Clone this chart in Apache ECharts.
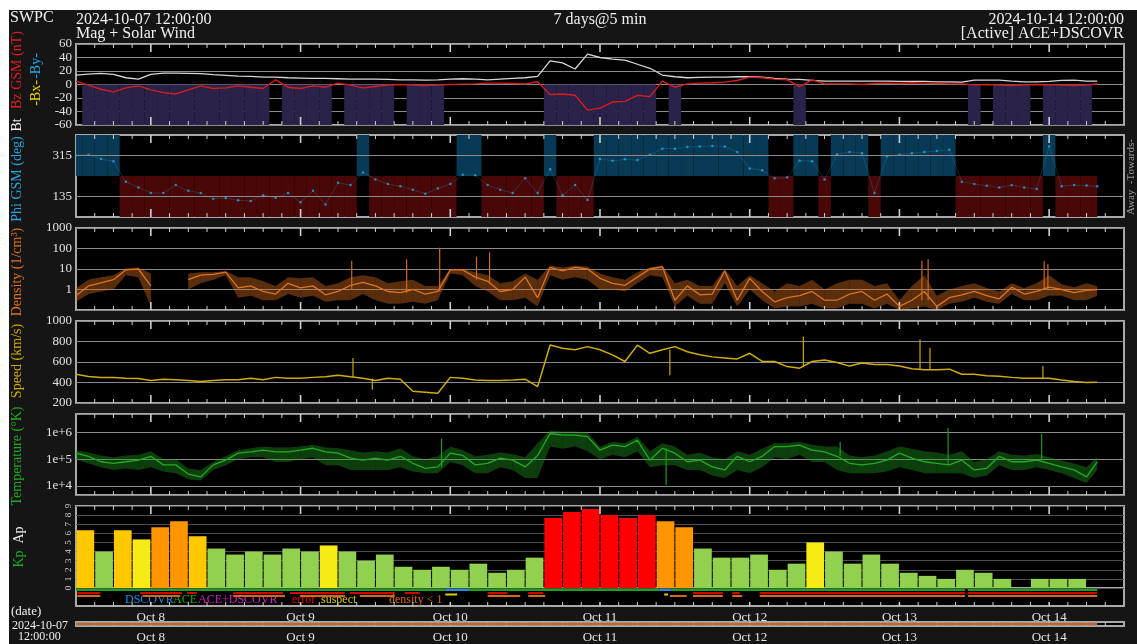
<!DOCTYPE html>
<html>
<head>
<meta charset="utf-8">
<script src="https://cdn.jsdelivr.net/npm/echarts@6/dist/echarts.min.js"></script>
<style>
  html, body { margin: 0; padding: 0; background: #fff; }
  #chart { width: 1137px; height: 644px; }
</style>
</head>
<body>
<div id="chart"></div>
<script>
// ---- Time base: hours since 2024-10-07 12:00 UTC (2-hour samples) ----
const hours = [0,2,4,6,8,10,12,14,16,18,20,22,24,26,28,30,32,34,36,38,40,42,44,46,48,50,52,54,56,58,
  60,62,64,66,68,70,72,74,76,78,80,82,84,86,88,90,92,94,96,98,100,102,104,106,108,110,112,114,116,118,
  120,122,124,126,128,130,132,134,136,138,140,142,144,146,148,150,152,154,156,158,160,162,163.7];

// Magnetic field (nT)
const bt = [14,15.5,16.5,15,10,8,15,17,17,16.5,16,14.5,13.5,12.5,12,11,11,10,9.5,9,9,8.5,8,8,8,7.5,7,7,6.5,7,
  8,8.5,8,7,8,9,10,12,35,32,23,45,40,37.5,36,30,24,14,11.5,10,10.5,11,11,11.5,11.5,11,9,8,7.5,6,
  5,5,5,5,5,5,4.5,4.5,4.5,4,4,3.5,6.5,6.5,6.5,5,4,4,4.5,6,6.5,5,5];
const bz = [5,-1,-7,-11,-5,-2,-8,-12,-14,-8,-2,-6,-5,-2,-4,-6,7,-4,-6,-2,-4,2,-1,-5,-3,-1,0,-1,-1.5,-1,
  0,0.5,1,2,2,1.5,1,4,-15,-14,-16,-38,-35,-26,-25,-16,-18,5,-4,1,2,2.5,3.5,6,11,10,8,7,-3,7,
  1,1,1,0,1.5,2,1.5,2.5,2,1.5,1,1,-0.5,0,-1,-1.5,-0.5,0,-0.5,-1,-1.5,-1,1];

// Field longitude Phi GSM (deg)
const phi = [315,318,300,290,200,175,150,150,185,160,150,125,128,118,115,140,130,150,110,160,100,195,185,240,210,190,180,165,147,170,
  190,230,228,185,165,150,215,150,255,140,185,120,300,292,298,295,318,345,345,352,355,357,355,330,258,250,215,218,292,290,
  210,320,330,325,150,312,318,325,330,335,340,200,190,182,175,185,175,168,355,180,185,183,180];

// Proton density (1/cm^3): typical value and the spread within each sample
const density = [0.5,1.5,2.1,3,9,10,1.5,null,null,3,5,5.5,7,1.2,1.5,0.8,0.6,2,1.2,1.5,0.55,0.8,1.6,2.2,1.5,0.8,0.7,1,0.6,0.8,
  9,9,4,2.5,0.8,1,4,0.4,12,8,12,10,3.5,2,1.6,4,10,13,0.3,1.5,0.55,0.6,8,0.3,3.5,0.8,0.25,0.4,0.5,0.8,
  0.3,0.3,0.6,0.8,0.3,0.6,0.15,0.3,0.8,0.15,0.4,0.55,0.8,0.5,0.35,1.3,0.6,0.8,1.3,1,0.7,0.9,1];
const densityLow = [0.25,0.6,0.8,1,5,4,0.15,null,null,1,2,3,5,0.4,0.5,0.3,0.3,0.6,0.4,0.5,0.25,0.3,0.3,0.6,0.3,0.2,0.2,0.25,0.2,0.3,
  6,5,1.5,0.8,0.3,0.3,0.4,0.15,5,3,4,3,1,1,0.8,2,5,4,0.15,0.5,0.2,0.2,2,0.15,1,0.3,0.12,0.15,0.15,0.2,
  0.12,0.12,0.2,0.2,0.12,0.2,0.1,0.12,0.15,0.1,0.2,0.25,0.4,0.25,0.2,0.6,0.3,0.3,0.5,0.5,0.3,0.3,0.5];
const densityHigh = [1.2,3,4,5,11,12,6,null,null,6,7,7,8,4,4,2.5,1.5,4,3.5,4,1.5,2,4,5,4,2,2.5,3,1.5,1.5,
  10,10,7,5,2,2.5,6,3,15,12,15,13,6,4,3,7,12,15,2,3,1.5,1.5,10,1.5,5,2,0.8,2,1.5,3,
  1,2,3,3,1.5,2,0.3,1.5,5,0.5,1,1.5,2,1.2,0.8,2,1.2,2,5,1.8,1.3,2,1.5];
// Short-lived excursions: [hour, low, high]
const densitySpikes = [[44.2,1,25],[53,0.7,30],[58.3,0.8,110],[64.2,3,40],[66.3,2,65],[135.6,0.3,25],[136.6,0.3,30],[155.2,1,24],[155.8,1,18]];

// Bulk speed (km/s)
const speed = [480,459,448,448,442,440,420,432,426,420,410,420,426,426,442,426,450,442,442,450,455,470,455,442,420,442,432,315,305,295,
  450,442,425,420,420,425,432,360,765,735,720,750,720,670,605,765,685,720,750,700,670,650,640,630,685,605,605,555,540,605,
  620,595,560,590,575,575,560,535,525,525,530,480,480,465,460,450,442,442,442,425,410,400,402];
const speedSpikes = [[44.4,450,640],[47.5,330,440],[95.2,470,720],[116.6,560,850],[135.3,530,820],[136.9,525,740],[155,440,560]];

// Ion temperature (K): typical value and the spread within each sample
const temperature = [1.7e5,1.3e5,8.1e4,7.1e4,8.1e4,9.3e4,1.3e5,6.2e4,6.2e4,2.8e4,2.2e4,6.2e4,9.3e4,1.7e5,1.9e5,2.2e5,1.9e5,1.9e5,2.2e5,2.6e5,
  1.9e5,1.7e5,1.1e5,9.3e4,1.1e5,9.3e4,1.3e5,7.1e4,4.6e4,5.2e4,1.7e5,1.4e5,6.2e4,7.1e4,1.1e5,9.3e4,5.2e4,1.4e5,9.3e5,8.1e5,
  8.1e5,7.1e5,2.2e5,3.4e5,3.0e5,5.2e5,9.3e4,2.6e5,1.7e5,8.1e4,9.3e4,5.2e4,4.0e4,1.3e5,8.1e4,1.3e5,3.0e5,3.0e5,3.4e5,2.2e5,
  1.9e5,1.3e5,7.1e4,6.2e4,7.1e4,9.3e4,1.7e5,1.1e5,8.1e4,7.1e4,6.2e4,9.3e4,4.0e4,4.6e4,1.3e5,8.1e4,8.1e4,9.3e4,7.1e4,5.2e4,
  4.0e4,2.2e4,8.1e4];
const temperatureLow = [1e5,7e4,5e4,4e4,4.5e4,4e4,5e4,3.5e4,3e4,1.8e4,1.6e4,4e4,6e4,1e5,1.2e5,1.2e5,8e4,8e4,1e5,1.2e5,
  6e4,6e4,4e4,4e4,4e4,4e4,5e4,3.5e4,3e4,3e4,8e4,6e4,3e4,3e4,5e4,4e4,2e4,2e4,3e5,2.5e5,
  3e5,2e5,1e5,1.5e5,1.2e5,2e5,5e4,6e4,6e4,4e4,4e4,2.5e4,2e4,4e4,3e4,5e4,1.2e5,1e5,1.5e5,8e4,
  8e4,4e4,3e4,3e4,3e4,3.5e4,5e4,4e4,3e4,3e4,3e4,3e4,2e4,2.5e4,6e4,4e4,4e4,5e4,4e4,3e4,
  2e4,1.3e4,4e4];
const temperatureHigh = [2.2e5,1.8e5,1.4e5,1.2e5,1.4e5,1.5e5,2e5,1e5,1e5,4.5e4,4e4,8e4,1.3e5,2.2e5,2.6e5,3e5,2.8e5,2.8e5,3e5,3.5e5,
  2.8e5,2.6e5,2.2e5,1.8e5,2e5,1.8e5,2.6e5,1.3e5,1e5,1.3e5,3e5,2.2e5,1.3e5,1.5e5,1.8e5,1.6e5,1.2e5,4e5,1.2e6,1.1e6,
  1.1e6,1e6,3e5,4.5e5,4e5,7e5,2e5,4e5,3e5,1.5e5,1.8e5,1.2e5,1e5,2e5,1.5e5,2.5e5,4e5,4e5,4.5e5,3.5e5,
  3e5,3e5,1.4e5,1.2e5,1.4e5,2e5,3e5,2.5e5,2e5,1.8e5,1.5e5,2e5,8e4,1e5,2e5,1.5e5,1.4e5,1.6e5,1.2e5,9e4,
  7e4,5e4,1.2e5];
const temperatureSpikes = [[58.6,5e4,6e5],[94.6,1.1e4,2.6e5],[122.5,1.3e5,4.5e5],[139.8,6e4,1.5e6],[154.8,9e4,9e5]];

// Planetary K index, 3-hour intervals starting 2024-10-07 12:00
const kp = [6.33,4,6.33,5.33,6.67,7.33,5.67,4.33,3.67,4,3.67,4.33,4,4.67,4,3,3.67,2.33,2,2.33,2,2.67,1.67,2,3.33,
  7.67,8.33,8.67,8,7.67,8,7.33,6.67,4.33,3.33,3.33,3.67,2,2.67,5,4,2.67,3.67,2.67,1.67,1.33,1,2,1.67,1,0,1,1,1,null,null];

// Data-quality strip: [start hour, end hour]
const aceSpans = [[0,59.2],[63,93.5],[95.5,142.5],[143,163.7]];
const dscovrSpans = [[59.2,63],[93.5,95.5]];
const errorSpans = [[0.2,3.9],[10.3,17],[17.8,19.4],[25.2,33.2],[34.3,43.1],[43.9,51.1],[52.7,55.1],[66,69.2],[72.5,74.9],
  [98.9,103.7],[105.2,106.4],[109.6,142.5],[143,163.7]];
const lowDensitySpans = [[0.2,3.9],[10.7,16.7],[25.2,33.5],[35.9,43.1],[45.5,51.1],[66,71.2],[72.5,75.2],[95.2,97.9],
  [98.9,103.7],[105.2,106.8],[109.6,142.5],[143,163.7]];
const suspectSpans = [[59.2,61.1],[94.3,94.9]];
const coverageSpan = [0, 163.7];

// Axis ticks / labels
const tickHours = [3,6,9,12,15,18,21,24,27,30,33,36,39,42,45,48,51,54,57,60,63,66,69,72,75,78,81,84,87,90,93,96,99,
  102,105,108,111,114,117,120,123,126,129,132,135,138,141,144,147,150,153,156,159,162,165];
const dayHours = [12,36,60,84,108,132,156];
const dayLabels = ['Oct 8','Oct 9','Oct 10','Oct 11','Oct 12','Oct 13','Oct 14'];
const phiTicks = [135,315];

// ---------------------------------------------------------------
const FONT = "'Liberation Serif','DejaVu Serif','Times New Roman',serif";
const FRAME = '#a9a9a9';
const GRIDLINE = '#8a8a8a';
const LABEL = '#e2e2e2';
const TICK = '#cfcfcf';

// panel boxes: [top, height]
const BOX = [[44,81],[135,82],[228,82],[321,82],[414,81],[506,82],[588,18],[622,7]];
// which edges carry time ticks
const TICK_EDGES = [['top','bottom'],['top','bottom'],['top','bottom'],['top','bottom'],['top','bottom'],['top'],['bottom'],['bottom']];

const grid = BOX.map(([top, height]) => ({
  left: 76, right: 13, top, height, show: true,
  backgroundColor: '#000', borderColor: FRAME, borderWidth: 2
}));

const xAxis = BOX.map((_, gi) => ({
  type: 'value', gridIndex: gi, min: 0, max: 168, interval: 12, position: 'bottom',
  axisLine: { show: false }, axisTick: { show: false }, splitLine: { show: false },
  axisLabel: (gi >= 6) ? {
    show: true, customValues: dayHours, margin: 5,
    formatter: v => dayLabels[dayHours.indexOf(v)],
    color: LABEL, fontFamily: FONT, fontSize: 13
  } : { show: false }
}));

const yLabel = extra => Object.assign({ color: LABEL, fontFamily: FONT, fontSize: 13, margin: 4 }, extra || {});
const split = c => ({ show: true, lineStyle: { color: c || GRIDLINE, width: 1 } });
const plain = v => String(v);

const yAxis = [
  { type: 'value', gridIndex: 0, min: -60, max: 60, interval: 20, axisLine: {show:false}, axisTick: {show:false},
    axisLabel: yLabel({ showMinLabel: true, showMaxLabel: true, formatter: plain }), splitLine: split() },
  { type: 'value', gridIndex: 1, min: 45, max: 405, interval: 90, axisLine: {show:false},
    axisTick: {show:false}, axisLabel: yLabel({ customValues: phiTicks }), splitLine: {show:false} },
  { type: 'log', logBase: 10, gridIndex: 2, min: 0.1, max: 1000, axisLine: {show:false}, axisTick: {show:false},
    axisLabel: yLabel({ showMinLabel: false, showMaxLabel: true, formatter: plain }), splitLine: split() },
  { type: 'value', gridIndex: 3, min: 200, max: 1000, interval: 200, axisLine: {show:false}, axisTick: {show:false},
    axisLabel: yLabel({ showMinLabel: true, showMaxLabel: true, formatter: plain }), splitLine: split() },
  { type: 'log', logBase: 10, gridIndex: 4, min: 4600, max: 5.0e6, axisLine: {show:false}, axisTick: {show:false},
    axisLabel: yLabel({ showMinLabel: false, showMaxLabel: false,
      formatter: v => '1e+' + Math.round(Math.log10(v)) }), splitLine: split() },
  { type: 'value', gridIndex: 5, min: 0, max: 9, interval: 1, axisLine: {show:false}, axisTick: {show:false},
    axisLabel: yLabel({ rotate: 90, fontSize: 9, margin: 3, color: '#cfcfcf', showMinLabel: true, showMaxLabel: true }),
    splitLine: split('#4e4e4e') },
  { type: 'value', gridIndex: 6, min: 0, max: 18, inverse: true, show: false },
  { type: 'value', gridIndex: 7, min: 0, max: 1, show: false }
];
// axis values at the bottom and top edge of each panel (bottom first)
const EDGE_RANGE = [[-60,60],[45,405],[0.1,1000],[200,1000],[4600,5e6],[0,9],[18,0],[0,1]];

// ---- helpers ----
function spanAt(i) {
  const h = hours[i];
  const l = i > 0 ? (hours[i - 1] + h) / 2 : h;
  const r = i < hours.length - 1 ? (h + hours[i + 1]) / 2 : h;
  return [l, r];
}
function rectItem(api, fill) {
  const a = api.coord([api.value(0), api.value(2)]);
  const b = api.coord([api.value(1), api.value(3)]);
  return { type: 'rect', shape: { x: a[0], y: Math.min(a[1], b[1]),
    width: Math.max(b[0] - a[0], 0.5), height: Math.abs(b[1] - a[1]) }, style: { fill } };
}
const pairs = arr => hours.map((h, i) => [h, arr[i]]);

// short inward time ticks along the top and/or bottom edge of a panel
function tickSeries(gi) {
  const edges = TICK_EDGES[gi];
  const [lo, hi] = EDGE_RANGE[gi];
  return {
    type: 'custom', xAxisIndex: gi, yAxisIndex: gi, silent: true,
    data: tickHours.map(h => [h, lo, hi]), encode: { x: 0, y: [1, 2] },
    renderItem: (p, api) => {
      const h = api.value(0);
      const major = dayHours.indexOf(h) >= 0;
      const len = gi >= 6 ? 4 : (major ? 8 : 4);
      const b = api.coord([h, api.value(1)]);
      const t = api.coord([h, api.value(2)]);
      const x = b[0];
      const segs = [];
      if (edges.indexOf('top') >= 0) segs.push([t[1], t[1] + len]);
      if (edges.indexOf('bottom') >= 0) segs.push([b[1], b[1] - len]);
      const w = major ? 1.6 : 1;
      if (segs.length === 1)
        return { type: 'line', shape: { x1: x, y1: segs[0][0], x2: x, y2: segs[0][1] }, style: { stroke: TICK, lineWidth: w } };
      return { type: 'group', children: segs.map(s => ({ type: 'line',
        shape: { x1: x, y1: s[0], x2: x, y2: s[1] }, style: { stroke: TICK, lineWidth: w } })) };
    }
  };
}
function spikeSeries(gi, list, color) {
  return {
    type: 'custom', xAxisIndex: gi, yAxisIndex: gi, silent: true,
    data: list, encode: { x: 0, y: [1, 2] },
    renderItem: (p, api) => {
      const a = api.coord([api.value(0), api.value(1)]);
      const b = api.coord([api.value(0), api.value(2)]);
      return { type: 'line', shape: { x1: a[0], y1: a[1], x2: b[0], y2: b[1] },
        style: { stroke: color, lineWidth: 1.2 } };
    }
  };
}
// spread band between low and high curves, one quad per interval
function bandSeries(gi, low, high, color) {
  const data = [];
  for (let i = 0; i < hours.length - 1; i++) {
    if (low[i] == null || low[i + 1] == null) continue;
    data.push([hours[i], hours[i + 1], low[i], high[i], low[i + 1], high[i + 1]]);
  }
  return {
    type: 'custom', xAxisIndex: gi, yAxisIndex: gi, silent: true,
    data, encode: { x: [0, 1], y: [2, 3, 4, 5] },
    renderItem: (p, api) => {
      const h0 = api.value(0), h1 = api.value(1);
      const pts = [api.coord([h0, api.value(2)]), api.coord([h0, api.value(3)]),
                   api.coord([h1, api.value(5)]), api.coord([h1, api.value(4)])];
      return { type: 'polygon', shape: { points: pts }, style: { fill: color } };
    }
  };
}
function lineSeries(gi, data, color, width) {
  return { type: 'line', xAxisIndex: gi, yAxisIndex: gi, data, showSymbol: false, silent: true,
    connectNulls: false, lineStyle: { color, width: width || 1.2 }, itemStyle: { color } };
}
function stripSeries(spans, row, color) {
  return {
    type: 'custom', xAxisIndex: 6, yAxisIndex: 6, silent: true,
    data: spans.map(s => [s[0], s[1], row - 1, row + 1]), encode: { x: [0, 1], y: [2, 3] },
    renderItem: (p, api) => rectItem(api, color)
  };
}
function kpColor(v) {
  if (v >= 7.5) return '#ff0000';
  if (v >= 6.5) return '#ff9600';
  if (v >= 5.5) return '#ffc800';
  if (v >= 4.5) return '#f6eb14';
  return '#92d050';
}

// ---- series ----
const series = [];

// southward Bz shading
series.push({
  type: 'custom', xAxisIndex: 0, yAxisIndex: 0, silent: true,
  data: hours.map((h, i) => bz[i] < 0 ? [...spanAt(i), 0, -60] : null).filter(d => d),
  encode: { x: [0, 1], y: [2, 3] },
  renderItem: (p, api) => rectItem(api, '#2b2249')
});
series.push(lineSeries(0, pairs(bt), '#d6d6d6', 1.3));
series.push(lineSeries(0, pairs(bz), '#d91c1c', 1.4));

// Phi sector shading (away / toward)
series.push({
  type: 'custom', xAxisIndex: 1, yAxisIndex: 1, silent: true,
  data: hours.map((h, i) => phi[i] >= 225 ? [...spanAt(i), 225, 405, 1] : [...spanAt(i), 45, 225, 0]),
  encode: { x: [0, 1], y: [2, 3] },
  renderItem: (p, api) => rectItem(api, api.value(4) ? '#083a55' : '#4a0707')
});
series.push(lineSeries(1, pairs(phi), 'rgba(42,162,220,0.3)', 0.8));
series.push({
  type: 'scatter', xAxisIndex: 1, yAxisIndex: 1, silent: true, data: pairs(phi),
  symbolSize: 2.5, itemStyle: { color: '#2aa2dc' },
  markLine: { silent: true, symbol: 'none', label: { show: false },
    lineStyle: { color: GRIDLINE, width: 1, type: 'solid' },
    data: phiTicks.map(v => ({ yAxis: v })) }
});

// density
series.push(bandSeries(2, densityLow, densityHigh, 'rgba(214,108,30,0.42)'));
series.push(spikeSeries(2, densitySpikes, '#d0681c'));
series.push(lineSeries(2, pairs(density), '#dc7420', 1.3));
// speed
series.push(spikeSeries(3, speedSpikes, '#c9a800'));
series.push(lineSeries(3, pairs(speed), '#cfae08', 1.5));
// temperature
series.push(bandSeries(4, temperatureLow, temperatureHigh, 'rgba(30,150,30,0.42)'));
series.push(spikeSeries(4, temperatureSpikes, '#1d9a1d'));
series.push(lineSeries(4, pairs(temperature), '#22aa22', 1.3));

// Kp bars
series.push({
  type: 'custom', xAxisIndex: 5, yAxisIndex: 5, silent: true,
  data: kp.map((v, i) => v === null ? null : [i * 3, i * 3 + 3, 0, v]).filter(d => d),
  encode: { x: [0, 1], y: [2, 3] },
  renderItem: (p, api) => {
    const a = api.coord([api.value(0), api.value(3)]);
    const b = api.coord([api.value(1), 0]);
    return { type: 'rect', shape: { x: a[0] + 0.5, y: a[1], width: b[0] - a[0] - 1, height: b[1] - a[1] },
      style: { fill: kpColor(api.value(3)) } };
  }
});

// data-quality strip
series.push(stripSeries(aceSpans, 2, '#12a812'));
series.push(stripSeries(dscovrSpans, 2, '#1e8fe0'));
series.push(stripSeries(errorSpans, 5, '#d40000'));
series.push(stripSeries(lowDensitySpans, 8, '#d46a14'));
series.push(stripSeries(suspectSpans, 6.5, '#e0d000'));

// coverage bar
series.push({ type: 'line', xAxisIndex: 7, yAxisIndex: 7, silent: true, showSymbol: false,
  data: [[coverageSpan[0], 0.5], [coverageSpan[1], 0.5]], lineStyle: { color: '#c0642c', width: 2.5 } });

// time ticks on every panel
BOX.forEach((_, gi) => series.push(tickSeries(gi)));

// ---- text ----
const txt = (text, x, y, color, size, align) => ({
  type: 'text', x, y, silent: true,
  style: { text, fill: color, font: size + 'px ' + FONT, align: align || 'left', verticalAlign: 'middle' }
});
const vtxt = (text, x, y, color, size) => ({
  type: 'text', x, y, rotation: Math.PI / 2, silent: true,
  style: { text, fill: color, font: size + 'px ' + FONT, align: 'center', verticalAlign: 'middle' }
});

const graphicEls = [
  { type: 'rect', shape: { x: 0, y: 0, width: 1137, height: 10 }, style: { fill: '#fff' }, silent: true },
  { type: 'rect', shape: { x: 0, y: 0, width: 9, height: 644 }, style: { fill: '#fff' }, silent: true },
  txt('SWPC', 10, 18, '#f0f0f0', 16),
  txt('2024-10-07 12:00:00', 76, 20, '#f0f0f0', 16),
  txt('Mag + Solar Wind', 76, 34, '#f0f0f0', 16),
  txt('7 days@5 min', 600, 20, '#f0f0f0', 16, 'center'),
  txt('2024-10-14 12:00:00', 1124, 20, '#f0f0f0', 16, 'right'),
  txt('[Active] ACE+DSCOVR', 1124, 34, '#f0f0f0', 16, 'right'),

  vtxt('Bz GSM (nT)', 17, 70, '#e01c1c', 14),
  vtxt('-By-', 36, 66, '#1ea6e6', 14),
  vtxt('-Bx-', 36, 93, '#e8d000', 14),
  vtxt('Bt', 17, 125, '#f0f0f0', 14),
  vtxt('Phi GSM (deg)', 17, 179, '#2aa2dc', 14),
  vtxt('Density (1/cm³)', 17, 272, '#e07020', 14),
  vtxt('Speed (km/s)', 17, 361, '#d0aa00', 14),
  vtxt('Temperature (°K)', 17, 456, '#20a820', 14),
  vtxt('Ap', 19, 535, '#f0f0f0', 14),
  vtxt('Kp', 19, 559, '#20a820', 14),
  vtxt('Away  -Towards-', 1131, 177, '#9a9a9a', 11),

  txt('DSCOVR', 125, 600, '#1e8fe0', 12),
  txt('ACE', 173, 600, '#14b014', 12),
  txt('ACE+DSCOVR', 198, 600, '#d020c8', 12),
  txt('error', 292, 600, '#e00000', 12),
  txt('suspect', 321, 600, '#d8c800', 12),
  txt('density < 1', 389, 600, '#d86a14', 12),

  txt('(date)', 11, 612, '#f0f0f0', 13),
  txt('2024-10-07', 12, 626, '#f0f0f0', 12),
  txt('12:00:00', 18, 637, '#f0f0f0', 12)
];

const chart = echarts.init(document.getElementById('chart'), null, { renderer: 'canvas' });
chart.setOption({
  backgroundColor: '#151515',
  animation: false,
  grid, xAxis, yAxis, series,
  graphic: { elements: graphicEls }
});
</script>
</body>
</html>
